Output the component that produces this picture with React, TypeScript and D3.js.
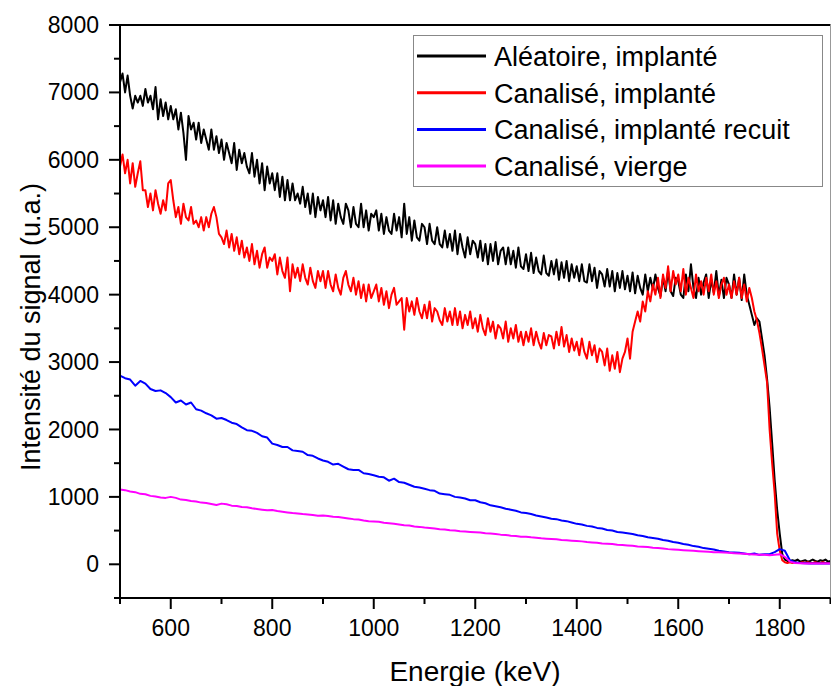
import React from "react";
import * as d3 from "d3";

// Energy grids (keV)
const energyFine: number[] = d3.range(500, 1901, 5);
const energyCoarse: number[] = d3.range(500, 1901, 10);

const aleatoireImplante: number[] = [
  7150, 7280, 7000, 7250, 6950, 6760, 6950, 6850, 6950, 6800,
  7050, 6850, 6950, 6750, 7080, 6600, 6900, 6650, 6850, 6600,
  6800, 6600, 6750, 6450, 6700, 6400, 6000, 6650, 6450, 6550,
  6300, 6550, 6250, 6450, 6300, 6150, 6450, 6150, 6350, 6100,
  6300, 6000, 6250, 6100, 5950, 6250, 5850, 6150, 5950, 6100,
  5900, 5800, 6100, 5750, 6000, 5650, 5950, 5550, 5900, 5650,
  5800, 5550, 5800, 5450, 5750, 5400, 5700, 5400, 5650, 5400,
  5500, 5350, 5600, 5300, 5500, 5200, 5500, 5150, 5450, 5250,
  5400, 5150, 5450, 5100, 5400, 5050, 5350, 5150, 5050, 5350,
  5250, 5000, 5300, 5050, 5000, 5350, 5000, 5250, 4950, 5200,
  5150, 5250, 4950, 5200, 4900, 5150, 4950, 4900, 5200, 4950,
  5150, 4850, 5350, 4900, 5150, 4800, 5100, 4850, 4800, 5050,
  5000, 4750, 5050, 4800, 4750, 5000, 4750, 4700, 4950, 4700,
  4900, 4650, 4950, 4600, 4900, 4700, 4550, 4850, 4600, 4800,
  4750, 4550, 4800, 4500, 4750, 4450, 4750, 4500, 4780, 4450,
  4650, 4700, 4450, 4700, 4450, 4650, 4400, 4700, 4420, 4380,
  4600, 4350, 4620, 4320, 4550, 4350, 4300, 4580, 4320, 4280,
  4500, 4300, 4520, 4220, 4480, 4250, 4500, 4200, 4450, 4250,
  4420, 4200, 4450, 4200, 4180, 4450, 4200, 4400, 4100, 4350,
  4300, 4120, 4380, 4120, 4350, 4050, 4320, 4100, 4350, 4080,
  4280, 4050, 4330, 4020, 4280, 4100, 4000, 4300, 4050, 4250,
  4080, 4300, 4100, 3980, 4250, 4050, 4350, 4050, 3980, 4250,
  4200, 4000, 3950, 4300, 4050, 4450, 4100, 3950, 4250, 4000,
  4180, 4300, 3950, 4220, 4030, 4350, 3980, 4220, 3950, 4250,
  4150, 3950, 4300, 4000, 4250, 3920, 4300, 4000, 3850, 3700,
  3550, 3650, 3600, 3350, 3100, 2750, 2330, 1800, 1250, 800,
  450, 150, 70, 50, 40, 60, 50, 70, 40, 50,
  60, 40, 50, 70, 50, 40, 60, 50, 70, 40,
  50,
];

const canaliseImplante: number[] = [
  5900, 6080, 5800, 6000, 5650, 5950, 5600, 5800, 5980, 5550,
  5550, 5300, 5500, 5250, 5550, 5350, 5200, 5400, 5250, 5650,
  5700, 5400, 5150, 5300, 5050, 5350, 5150, 5100, 5300, 5050,
  5100, 5000, 5150, 4950, 5150, 5000, 5200, 5300, 5150, 4900,
  4850, 4750, 4950, 4700, 4900, 4650, 4850, 4600, 4800, 4550,
  4700, 4500, 4750, 4450, 4650, 4400, 4600, 4700, 4400, 4550,
  4500, 4600, 4300, 4550, 4350, 4250, 4550, 4050, 4450, 4250,
  4400, 4200, 4450, 4250, 4150, 4400, 4200, 4100, 4350, 4200,
  4350, 4100, 4350, 4150, 4050, 4300, 4100, 4000, 4250, 4350,
  4150, 4050, 4250, 4000, 4200, 3950, 4150, 3900, 4150, 3950,
  4050, 4150, 3900, 4100, 3850, 4050, 3800, 4000, 4100, 3850,
  3900, 3950, 3480, 3950, 3750, 3900, 3700, 3950, 3750, 3650,
  3850, 3650, 3900, 3600, 3800, 3750, 3620, 3550, 3800, 3600,
  3750, 3550, 3800, 3550, 3750, 3500, 3700, 3550, 3750, 3500,
  3650, 3450, 3700, 3500, 3400, 3650, 3450, 3600, 3350, 3550,
  3500, 3350, 3600, 3300, 3500, 3350, 3550, 3300, 3450, 3250,
  3450, 3300, 3500, 3250, 3450, 3300, 3200, 3430, 3250, 3400,
  3380, 3200, 3450, 3250, 3520, 3230, 3400, 3150, 3350, 3170,
  3300, 3100, 3350, 3150, 3050, 3300, 3100, 3250, 3000, 3200,
  3150, 2950, 3200, 2870, 3100, 2900, 3150, 2850, 3050, 3150,
  3350, 3050, 3450, 3600, 3750, 3600, 3900, 3750, 4050, 3900,
  4150, 4000, 4250, 3950, 4300, 4100, 4420, 4050, 4350, 4150,
  4300, 4050, 4380, 4000, 4250, 4100, 3950, 4300, 4050, 4200,
  4000, 4250, 4050, 4300, 4000, 4200, 3950, 4150, 4250, 4000,
  4150, 3950, 4200, 4000, 4250, 3950, 4150, 3900, 4100, 3950,
  3750, 3620, 3430, 3200, 2950, 2700, 2000, 1500, 1050, 450,
  200, 60, 30, 20, 30, 20, 30, 20, 20, 30,
  20, 30, 20, 20, 30, 20, 20, 30, 20, 20,
  20,
];

const canaliseRecuit: number[] = [
  2800, 2760, 2740, 2650, 2720, 2680, 2600, 2570, 2580, 2540,
  2480, 2400, 2430, 2370, 2400, 2300, 2280, 2240, 2210, 2160,
  2170, 2140, 2100, 2080, 2030, 1990, 1980, 1950, 1900, 1880,
  1790, 1770, 1740, 1740, 1690, 1680, 1670, 1620, 1610, 1570,
  1540, 1520, 1480, 1490, 1450, 1410, 1400, 1400, 1350, 1340,
  1320, 1300, 1290, 1240, 1270, 1220, 1210, 1180, 1150, 1140,
  1120, 1100, 1090, 1050, 1040, 1030, 1000, 990, 975, 950,
  950, 920, 905, 875, 860, 845, 825, 810, 795, 770,
  760, 745, 725, 710, 695, 675, 670, 650, 640, 620,
  600, 590, 570, 560, 540, 530, 510, 500, 480, 470,
  460, 450, 430, 420, 400, 390, 380, 360, 350, 330,
  320, 300, 290, 270, 260, 240, 230, 220, 200, 190,
  180, 175, 170, 160, 150, 160, 140, 150, 150, 180,
  225, 200, 60, 30, 20, 15, 10, 10, 10, 10,
  10,
];

const canaliseVierge: number[] = [
  1110, 1100, 1080, 1070, 1045, 1040, 1015, 1005, 990, 985,
  1000, 985, 960, 955, 940, 930, 915, 910, 895, 880,
  900, 890, 870, 865, 850, 845, 830, 820, 810, 800,
  805, 790, 780, 770, 760, 755, 745, 740, 730, 720,
  725, 715, 705, 700, 690, 680, 670, 665, 650, 640,
  635, 630, 615, 610, 600, 590, 580, 575, 560, 555,
  545, 540, 530, 520, 515, 505, 500, 490, 485, 480,
  475, 470, 460, 455, 450, 440, 435, 425, 420, 410,
  410, 400, 395, 385, 380, 375, 370, 360, 355, 350,
  345, 340, 330, 325, 320, 310, 305, 300, 290, 285,
  280, 275, 265, 260, 255, 245, 240, 235, 225, 220,
  215, 210, 205, 200, 195, 190, 185, 180, 178, 175,
  170, 165, 160, 155, 150, 145, 140, 140, 135, 140,
  150, 110, 40, 20, 15, 10, 10, 10, 10, 10,
  10,
];

const seriesNames = [
  "Aléatoire, implanté",
  "Canalisé, implanté",
  "Canalisé, implanté recuit",
  "Canalisé, vierge",
];
const seriesColors = ["#000000", "#ff0000", "#0000ff", "#ff00ff"];

const xMajorTicks = [600, 800, 1000, 1200, 1400, 1600, 1800];
const xMinorTicks = [500, 700, 900, 1100, 1300, 1500, 1700, 1900];
const yMajorTicks = [0, 1000, 2000, 3000, 4000, 5000, 6000, 7000, 8000];
const yMinorTicks = [-500, 500, 1500, 2500, 3500, 4500, 5500, 6500, 7500];

const xTitle = "Energie (keV)";
const yTitle = "Intensité du signal (u.a.)";

export default function App() {
  const W = 831;
  const H = 686;
  const left = 120;
  const right = 830.5;
  const top = 25;
  const bottom = 598;

  const x = d3.scaleLinear().domain([500, 1900]).range([left, right]);
  const y = d3.scaleLinear().domain([-500, 8000]).range([bottom, top]);

  const series = [
    { xs: energyFine, ys: aleatoireImplante },
    { xs: energyFine, ys: canaliseImplante },
    { xs: energyCoarse, ys: canaliseRecuit },
    { xs: energyCoarse, ys: canaliseVierge },
  ];

  const line = d3
    .line<[number, number]>()
    .x((d) => x(d[0]))
    .y((d) => y(d[1]));

  const font = "Arial, 'Liberation Sans', sans-serif";

  return (
    <svg
      width={W}
      height={H}
      style={{ position: "absolute", left: 0, top: 0, background: "#fff" }}
      fontFamily={font}
    >
      <defs>
        <clipPath id="plotclip">
          <rect x={left} y={top} width={right - left} height={bottom - top} />
        </clipPath>
      </defs>

      <g clipPath="url(#plotclip)">
        {series.map((s, i) => (
          <path
            key={i}
            d={line(s.xs.map((e, j) => [e, s.ys[j]] as [number, number])) || ""}
            fill="none"
            stroke={seriesColors[i]}
            strokeWidth={2}
            strokeLinejoin="round"
          />
        ))}
      </g>

      {/* frame */}
      <line x1={left} x2={right} y1={top} y2={top} stroke="#000" strokeWidth={2} />
      <line x1={right} x2={right} y1={top} y2={bottom} stroke="#999" strokeWidth={1} />
      <line x1={left} x2={left} y1={top - 1} y2={bottom + 1} stroke="#000" strokeWidth={2} />
      <line x1={left - 1} x2={right} y1={bottom} y2={bottom} stroke="#000" strokeWidth={2} />

      {/* y ticks */}
      {yMajorTicks.map((t) => (
        <g key={"ym" + t}>
          <line x1={left - 11} x2={left} y1={y(t)} y2={y(t)} stroke="#000" strokeWidth={2} />
          <text
            x={left - 21}
            y={y(t)}
            dy="0.35em"
            textAnchor="end"
            fontSize={23}
            fill="#000"
          >
            {t}
          </text>
        </g>
      ))}
      {yMinorTicks.map((t) => (
        <line key={"yn" + t} x1={left - 6} x2={left} y1={y(t)} y2={y(t)} stroke="#000" strokeWidth={2} />
      ))}

      {/* x ticks */}
      {xMajorTicks.map((t) => (
        <g key={"xm" + t}>
          <line x1={x(t)} x2={x(t)} y1={bottom} y2={bottom + 11} stroke="#000" strokeWidth={2} />
          <text x={x(t)} y={636} textAnchor="middle" fontSize={23} fill="#000">
            {t}
          </text>
        </g>
      ))}
      {xMinorTicks.map((t) => (
        <line key={"xn" + t} x1={x(t)} x2={x(t)} y1={bottom} y2={bottom + 6} stroke="#000" strokeWidth={2} />
      ))}

      {/* axis titles */}
      <text x={475} y={681} textAnchor="middle" fontSize={28} fill="#000">
        {xTitle}
      </text>
      <text
        transform={`translate(40, ${327}) rotate(-90)`}
        textAnchor="middle"
        fontSize={27}
        fill="#000"
      >
        {yTitle}
      </text>

      {/* legend */}
      <rect x={413.5} y={35.5} width={409} height={151} fill="#fff" stroke="#888" strokeWidth={1} />
      {seriesNames.map((n, i) => (
        <g key={n}>
          <line
            x1={417}
            x2={486}
            y1={56 + i * 36.7}
            y2={56 + i * 36.7}
            stroke={seriesColors[i]}
            strokeWidth={3}
          />
          <text x={494} y={66 + i * 36.7} fontSize={27} fill="#000">
            {n}
          </text>
        </g>
      ))}
    </svg>
  );
}
